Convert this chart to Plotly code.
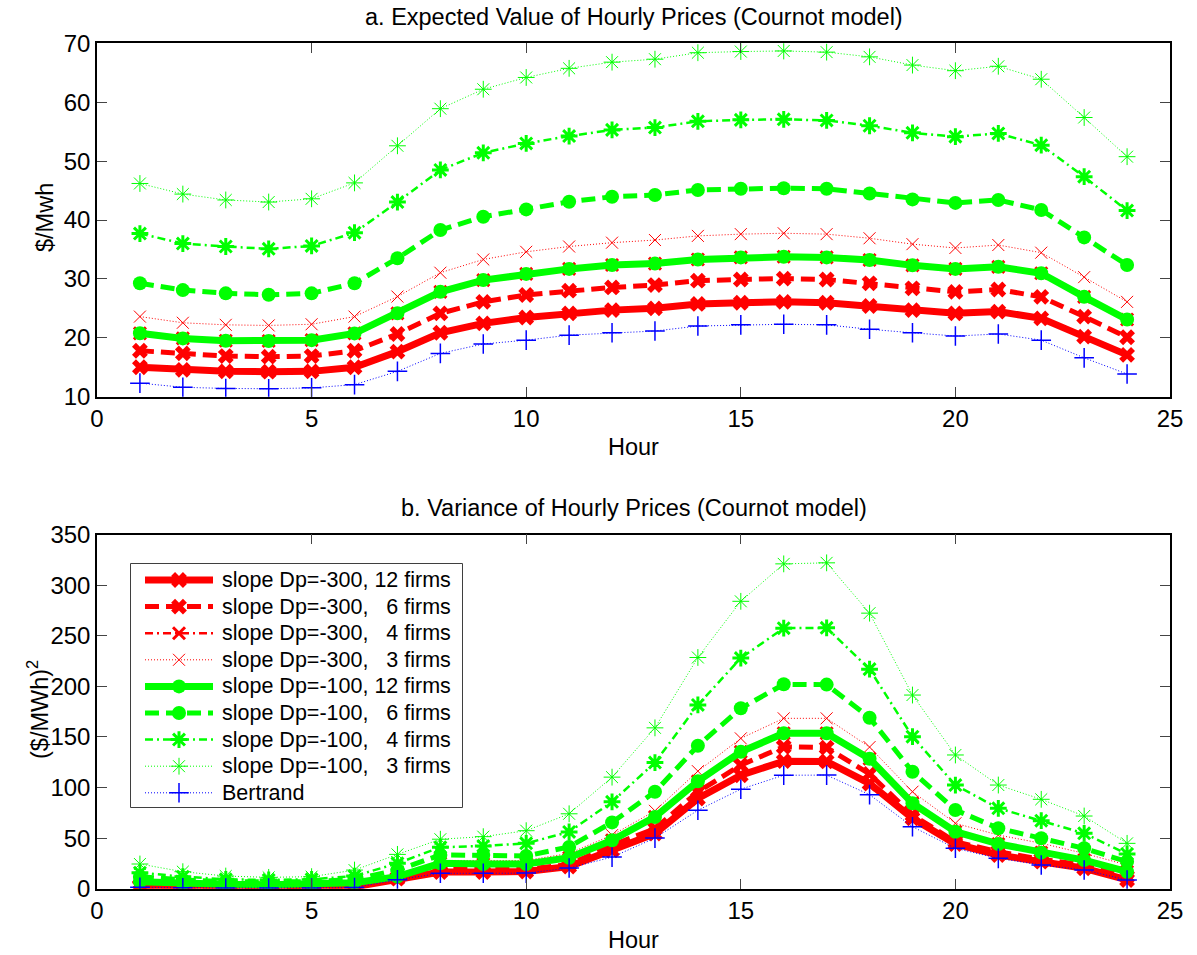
import plotly.graph_objects as go

hours = list(range(1, 25))

# ---- Panel a: expected hourly prices ($/Mwh) ----
red12_p = [15.0, 14.55, 14.3, 14.25, 14.3, 15.0, 17.65, 20.85, 22.45, 23.45, 24.15, 24.7,
           25.0, 25.75, 25.95, 26.1, 25.95, 25.4, 24.7, 24.15, 24.45, 23.3, 20.2, 17.1]
red6_p = [17.8, 17.35, 16.9, 16.8, 16.9, 17.8, 20.65, 24.15, 26.1, 27.27, 28.0, 28.55,
          28.95, 29.7, 29.9, 30.05, 29.9, 29.25, 28.4, 27.8, 28.2, 26.95, 23.6, 20.1]
red4_p = [20.76, 19.9, 19.5, 19.45, 19.6, 20.75, 24.15, 27.8, 29.8, 30.85, 31.7, 32.35,
          32.6, 33.3, 33.65, 33.75, 33.65, 33.2, 32.3, 31.7, 32.05, 30.95, 26.95, 23.1]
red3_p = [23.6, 22.55, 22.2, 22.1, 22.3, 23.6, 27.0, 31.05, 33.3, 34.6, 35.5, 36.15,
          36.6, 37.3, 37.6, 37.75, 37.6, 36.9, 35.9, 35.25, 35.75, 34.45, 30.3, 26.1]
green12_p = [20.76, 19.9, 19.5, 19.45, 19.6, 20.75, 24.15, 27.8, 29.8, 30.85, 31.7, 32.35,
             32.6, 33.3, 33.65, 33.75, 33.65, 33.2, 32.3, 31.7, 32.05, 30.95, 26.95, 23.1]
green6_p = [29.25, 28.1, 27.55, 27.3, 27.55, 29.25, 33.5, 38.3, 40.55, 41.8, 43.1, 43.95,
            44.25, 45.1, 45.3, 45.4, 45.3, 44.5, 43.5, 42.9, 43.4, 41.7, 37.05, 32.35]
green4_p = [37.7, 36.0, 35.5, 35.1, 35.6, 37.85, 43.05, 48.5, 51.4, 53.0, 54.25, 55.3,
            55.7, 56.75, 57.0, 57.1, 56.9, 56.0, 54.8, 54.15, 54.7, 52.7, 47.35, 41.6]
green3_p = [46.2, 44.4, 43.4, 43.05, 43.6, 46.3, 52.6, 58.9, 62.2, 64.2, 65.75, 66.8,
            67.3, 68.4, 68.6, 68.7, 68.5, 67.7, 66.3, 65.35, 66.1, 63.9, 57.4, 50.75]
bert_p = [12.3, 11.6, 11.4, 11.35, 11.5, 12.05, 14.3, 17.35, 18.95, 19.6, 20.45, 20.85,
          21.15, 22.0, 22.2, 22.3, 22.2, 21.45, 20.85, 20.3, 20.65, 19.6, 16.6, 13.85]

# ---- Panel b: variance of hourly prices (($/MWh)^2) ----
red12_v = [2, 1.5, 1.4, 1.3, 1.4, 2, 10, 16.5, 16.5, 17, 22, 38,
           54.5, 89.2, 112.2, 126.1, 125.8, 104, 69.6, 44.3, 33.4, 26.8, 20.3, 8.7]
red6_v = [3, 2.5, 2.2, 2.1, 2.2, 3, 11, 19, 19, 19.5, 24, 43,
          59.4, 95.7, 122.2, 140.3, 139.5, 113.5, 72.9, 46.5, 36.6, 29.1, 23.5, 12]
red4_v = [7, 5.4, 4.4, 4.1, 4.4, 6, 12, 25.2, 24.5, 24.5, 30.7, 48,
          71, 106.3, 135.3, 153.6, 153.6, 128.5, 84.5, 56.4, 44.3, 35.7, 28.4, 16.9]
red3_v = [6, 4.5, 4, 3.8, 4, 5, 14, 28, 28, 28, 35, 53,
          77, 116.2, 148.6, 168.4, 168.4, 140, 95.9, 64.7, 53.1, 45, 35, 23.5]
green12_v = [7, 5.4, 4.4, 4.1, 4.4, 6, 12, 25.2, 24.5, 24.5, 30.7, 48,
             71, 106.3, 135.3, 153.6, 153.6, 128.5, 84.5, 56.4, 44.3, 35.7, 28.4, 16.9]
green6_v = [12, 8.7, 7, 6.4, 7, 9.4, 18.6, 33.4, 33.4, 32.4, 41.4, 65.6,
            95.8, 141.3, 178.3, 202, 201.7, 169, 115.7, 77.8, 59.8, 49.9, 40, 26.8]
green4_v = [15.9, 12.0, 9.4, 8.7, 9.4, 12.6, 25.2, 41, 42.3, 44.9, 56.2, 85.9,
            124.7, 181.6, 227.9, 257.5, 257.8, 217, 150.3, 102.5, 79.5, 67.3, 54.8, 34.4]
green3_v = [24.5, 16.9, 12.6, 11.3, 12.0, 18.5, 34, 49, 51.5, 57.4, 74.1, 110.3,
            159, 228.5, 284, 321, 322, 272.3, 191.4, 132.2, 102.5, 88.4, 71.9, 44.9]
bert_v = [1.5, 1.0, 0.8, 0.8, 0.8, 1.2, 9, 15.3, 15.3, 15.5, 20.5, 31.3,
          50.1, 77.6, 98.4, 112.2, 112.3, 93, 61.3, 40, 30.1, 23.5, 18.6, 8.7]

NB = "\u00a0"
names = [
    "slope Dp=-300, 12 firms",
    "slope Dp=-300," + NB * 3 + "6 firms",
    "slope Dp=-300," + NB * 3 + "4 firms",
    "slope Dp=-300," + NB * 3 + "3 firms",
    "slope Dp=-100, 12 firms",
    "slope Dp=-100," + NB * 3 + "6 firms",
    "slope Dp=-100," + NB * 3 + "4 firms",
    "slope Dp=-100," + NB * 3 + "3 firms",
    "Bertrand",
]
price_series = [red12_p, red6_p, red4_p, red3_p, green12_p, green6_p, green4_p, green3_p, bert_p]
var_series = [red12_v, red6_v, red4_v, red3_v, green12_v, green6_v, green4_v, green3_v, bert_v]

RED, GREEN, BLUE = "#FF0000", "#00FF00", "#0000FF"
styles = [
    dict(color=RED, width=7, dash="solid", symbol="x", msize=14, mlw=0),
    dict(color=RED, width=5, dash="14px,7px", symbol="x", msize=14, mlw=0),
    dict(color=RED, width=2.5, dash="8px,4px,2px,4px", symbol="x-thin", msize=12, mlw=3),
    dict(color=RED, width=1, dash="1px,2px", symbol="x-thin", msize=12, mlw=1),
    dict(color=GREEN, width=7, dash="solid", symbol="circle", msize=14, mlw=0),
    dict(color=GREEN, width=5, dash="14px,7px", symbol="circle", msize=14, mlw=0),
    dict(color=GREEN, width=2.5, dash="8px,4px,2px,4px", symbol="asterisk", msize=14, mlw=3),
    dict(color=GREEN, width=1, dash="1px,2px", symbol="asterisk", msize=14, mlw=1),
    dict(color=BLUE, width=1, dash="1px,2px", symbol="cross-thin", msize=14, mlw=1.5),
]

FONT = "Liberation Sans, Arial, Helvetica, sans-serif"
W, H = 1197, 955
L, R = 97, 27
PW = W - L - R


def py(px):
    return 1 - px / H


def pxx(px):
    return (px - L) / PW


fig = go.Figure()
for panel, series in ((1, price_series), (2, var_series)):
    for name, ys, st in zip(names, series, styles):
        fig.add_trace(go.Scatter(
            x=hours, y=ys, name=name, mode="lines+markers", showlegend=False,
            line=dict(color=st["color"], width=st["width"], dash=st["dash"]),
            marker=dict(symbol=st["symbol"], size=st["msize"], color=st["color"],
                        line=dict(color=st["color"], width=st["mlw"])),
            xaxis="x" if panel == 1 else "x2",
            yaxis="y" if panel == 1 else "y2",
        ))

# ---- legend box (drawn on its own hidden pixel-unit axes) ----
LEG_X0, LEG_X1, LEG_Y0, LEG_Y1 = 131, 462, 564, 807
ROW0, ROWSTEP = 580, 26.6
SAMPLE_X0, SAMPLE_X1, TEXT_X = 145, 213, 220
legend_ann = []
for i, (name, st) in enumerate(zip(names, styles)):
    ry = ROW0 + ROWSTEP * i
    fig.add_trace(go.Scatter(
        x=[SAMPLE_X0, SAMPLE_X1], y=[ry, ry], mode="lines", showlegend=False,
        hoverinfo="skip",
        line=dict(color=st["color"], width=st["width"], dash=st["dash"]),
        xaxis="x3", yaxis="y3"))
    fig.add_trace(go.Scatter(
        x=[(SAMPLE_X0 + SAMPLE_X1) / 2], y=[ry], mode="markers", showlegend=False,
        hoverinfo="skip",
        marker=dict(symbol=st["symbol"], size=st["msize"], color=st["color"],
                    line=dict(color=st["color"], width=st["mlw"])),
        xaxis="x3", yaxis="y3"))
    legend_ann.append(dict(text=name, x=TEXT_X, y=ry, xref="x3", yref="y3",
                           showarrow=False, xanchor="left", yanchor="middle",
                           font=dict(family=FONT, size=21.5, color="black")))

axis_common = dict(
    showline=True, linecolor="black", linewidth=1.5, mirror="ticks",
    ticks="inside", ticklen=10, tickwidth=1, tickcolor="#444",
    showgrid=False, zeroline=False, automargin=False,
    tickfont=dict(family=FONT, size=24, color="black"),
)

fig.update_layout(
    width=W, height=H,
    margin=dict(l=L, r=R, t=0, b=0, autoexpand=False),
    paper_bgcolor="white", plot_bgcolor="white",
    font=dict(family=FONT, color="black"),
    xaxis=dict(domain=[0, 1], range=[0, 25], tickvals=[0, 5, 10, 15, 20, 25],
               anchor="y", **axis_common),
    yaxis=dict(domain=[py(396.7), py(43.3)], range=[10, 70],
               tickvals=[10, 20, 30, 40, 50, 60, 70], anchor="x", **axis_common),
    xaxis2=dict(domain=[0, 1], range=[0, 25], tickvals=[0, 5, 10, 15, 20, 25],
                anchor="y2", **axis_common),
    yaxis2=dict(domain=[py(888.8), py(534.5)], range=[0, 350],
                tickvals=[0, 50, 100, 150, 200, 250, 300, 350], anchor="x2", **axis_common),
    xaxis3=dict(domain=[pxx(LEG_X0), pxx(LEG_X1)], range=[LEG_X0, LEG_X1], visible=False,
                anchor="y3", fixedrange=True, automargin=False),
    yaxis3=dict(domain=[py(LEG_Y1), py(LEG_Y0)], range=[LEG_Y1, LEG_Y0], visible=False,
                anchor="x3", fixedrange=True, automargin=False),
    showlegend=False,
    shapes=[dict(type="rect", xref="paper", yref="paper",
                 x0=pxx(LEG_X0), x1=pxx(LEG_X1), y0=py(LEG_Y1), y1=py(LEG_Y0),
                 line=dict(color="black", width=1.5), fillcolor="white", layer="below")],
)

ann = list(legend_ann)
ann.append(dict(text="a. Expected Value of Hourly Prices (Cournot model)", x=0.5, y=py(17),
                xref="paper", yref="paper", showarrow=False,
                font=dict(family=FONT, size=23.5), xanchor="center", yanchor="middle"))
ann.append(dict(text="b. Variance of Hourly Prices (Cournot model)", x=0.5, y=py(508),
                xref="paper", yref="paper", showarrow=False,
                font=dict(family=FONT, size=23.5), xanchor="center", yanchor="middle"))
ann.append(dict(text="Hour", x=0.5, y=py(447), xref="paper", yref="paper", showarrow=False,
                font=dict(family=FONT, size=23.5), xanchor="center", yanchor="middle"))
ann.append(dict(text="Hour", x=0.5, y=py(940), xref="paper", yref="paper", showarrow=False,
                font=dict(family=FONT, size=23.5), xanchor="center", yanchor="middle"))
ann.append(dict(text="$/Mwh", x=pxx(45), y=py(218), xref="paper", yref="paper",
                showarrow=False, textangle=-90,
                font=dict(family=FONT, size=23.5), xanchor="center", yanchor="middle"))
ann.append(dict(text="($/MWh)<sup>2</sup>", x=pxx(38), y=py(710),
                xref="paper", yref="paper", showarrow=False, textangle=-90,
                font=dict(family=FONT, size=23.5), xanchor="center", yanchor="middle"))
fig.update_layout(annotations=ann)

fig.write_html("out.html")
